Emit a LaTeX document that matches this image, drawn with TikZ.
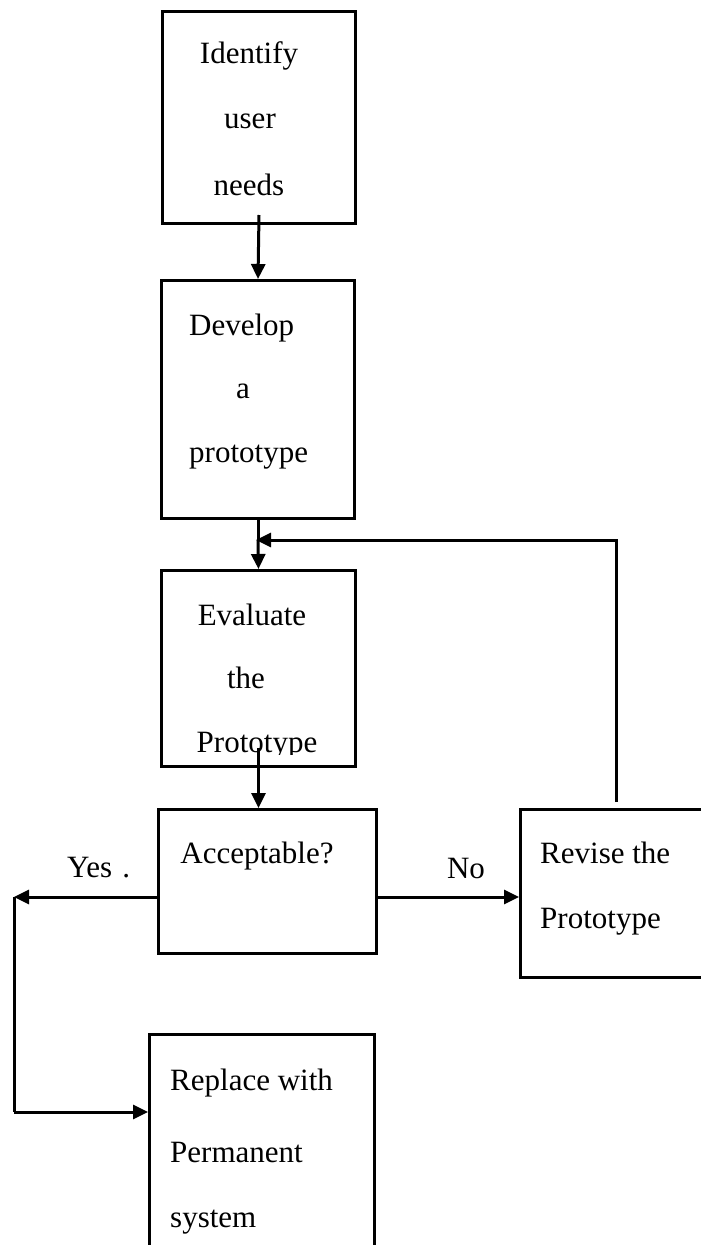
\documentclass[tikz,border=0pt]{standalone}
\usepackage{fontspec}
\setmainfont{Liberation Serif}
\usetikzlibrary{arrows.meta}
\begin{document}
\begin{tikzpicture}[x=1pt,y=-1pt,
  box/.style={draw, line width=3pt, anchor=north west, inner sep=0pt},
  lbl/.style={inner sep=0pt, font=\fontsize{31}{37}\selectfont},
  arr/.style={line width=3pt, -{Triangle[length=15pt,width=14pt]}},
  ln/.style={line width=3pt}]
\useasboundingbox (0,0) rectangle (701,1245);
\clip (0,0) rectangle (701,1245);
\fill[white] (0,0) rectangle (701,1245);
% boxes
\node[box, minimum width=193pt, minimum height=212pt] (b1) at (161,10) {};
\node[box, minimum width=193pt, minimum height=238pt] (b2) at (160,279) {};
\node[box, minimum width=194pt, minimum height=196pt] (b3) at (160,569) {};
\node[box, minimum width=218pt, minimum height=144pt] (b4) at (157,808) {};
\node[box, minimum width=192pt, minimum height=168pt] (b5) at (519,808) {};
\node[box, minimum width=225pt, minimum height=240pt] (b6) at (148,1033) {};
% texts
\node[lbl, anchor=base] (t1a) at (249,63) {Identify};
\node[lbl, anchor=base] (t1b) at (250,128) {user};
\node[lbl, anchor=base] (t1c) at (249,195) {needs};
\node[lbl, anchor=base west] (t2a) at (189,335) {Develop};
\node[lbl, anchor=base] (t2b) at (243,398) {a};
\node[lbl, anchor=base west] (t2c) at (189,462) {prototype};
\node[lbl, anchor=base] (t3a) at (252,625) {Evaluate};
\node[lbl, anchor=base] (t3b) at (246,688) {the};
\begin{scope}
\clip (160,569) rectangle (354,754);
\node[lbl, anchor=base] (t3c) at (257,752) {Prototype};
\end{scope}
\node[lbl, anchor=base] (t4) at (257,863) {Acceptable?};
\node[lbl, anchor=base west] (t5a) at (540,863) {Revise the};
\node[lbl, anchor=base west] (t5b) at (540,928) {Prototype};
\node[lbl, anchor=base west] (t6a) at (170,1090) {Replace with};
\node[lbl, anchor=base west] (t6b) at (170,1162) {Permanent};
\node[lbl, anchor=base west] (t6c) at (170,1227) {system};
\node[lbl, anchor=base west] (yes) at (67,877) {Yes\hspace{10pt}.};
\node[lbl, anchor=base] (no) at (466,878) {No};
% junction coordinates
\coordinate (j) at (256,540);
\coordinate (c1) at (14,897);
\coordinate (c2) at (14,1112);
% connectors
\draw[arr] ([yshift=10pt]b1.south) -- (b2.north);
\draw[ln] (b2.south) -- (b2.south |- j);
\draw[arr] (b2.south |- j) -- (b3.north);
\draw[arr] ([yshift=6pt]b5.north) |- (j);
\draw[arr] ([yshift=20pt]b3.south) -- (b3.south |- b4.north);
\draw[arr] (b4.west |- c1) -- (c1);
\draw[ln] (c1) -- (c2);
\draw[arr] (c2) -- (c2 -| b6.west);
\draw[arr] (b4.east |- c1) -- (b5.west |- c1);
\end{tikzpicture}
\end{document}
